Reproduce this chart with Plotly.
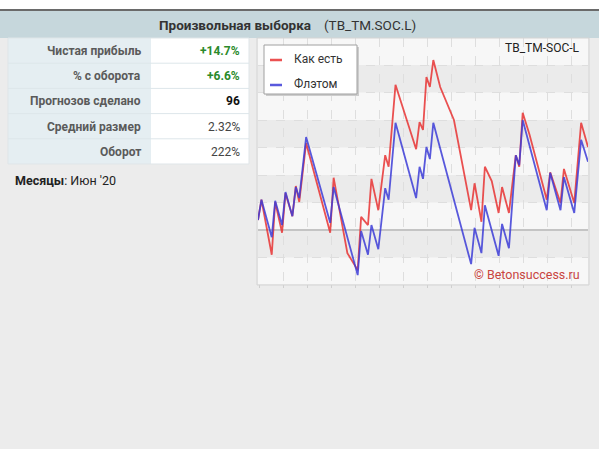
import plotly.graph_objects as go

W, H = 599, 449

# ---- data ----
title_main = "Произвольная выборка"
title_code = "(TB_TM.SOC.L)"
chart_name = "TB_TM-SOC-L"
watermark = "© Betonsuccess.ru"
series_names = ["Как есть", "Флэтом"]

stat_labels = ["Чистая прибыль", "% с оборота", "Прогнозов сделано", "Средний размер", "Оборот"]
stat_values = ["+14.7%", "+6.6%", "96", "2.32%", "222%"]
months_label = "Месяцы"
months_value = "Июн '20"

# bet index / cumulative profit (%)
red_x = [0, 1, 4, 5, 7, 8, 10, 11, 12, 14, 21, 22, 26, 29, 30, 32, 33, 35, 37, 38, 40,
         46, 47, 48, 49, 50, 51, 53, 57, 62, 63, 65, 66, 68, 70, 71, 73, 75, 76, 77, 79,
         84, 85, 88, 89, 92, 94, 96]
red_y = [1.8, 5.5, -4.5, 5.1, -0.5, 6.7, 2.5, 8.0, 5.1, 15.8, -0.5, 9.5, -4.2, -7.3, 2.4,
         0.9, 9.3, 3.6, 13.6, 11.5, 26.4, 14.7, 19.6, 18.2, 27.8, 26.0, 30.9, 26.0, 20.0,
         3.6, 8.5, 1.5, 11.5, 8.9, 3.1, 7.8, 3.1, 13.6, 11.5, 21.3, 17.3, 5.5, 10.5, 4.9,
         11.1, 4.9, 19.5, 15.1]

blue_x = [0, 1, 4, 5, 7, 8, 10, 11, 12, 14, 21, 22, 29, 30, 32, 33, 35, 37, 38, 40, 46,
          47, 48, 49, 50, 51, 62, 63, 65, 66, 70, 71, 73, 75, 76, 77, 84, 85, 88, 89, 92,
          94, 96]
blue_y = [1.8, 5.5, -1.3, 5.3, 0.9, 6.9, 2.5, 7.8, 5.8, 16.9, 1.3, 7.8, -8.2, -0.2, -4.5,
          0.9, -3.5, 7.6, 5.5, 19.5, 5.8, 11.5, 9.3, 15.1, 12.9, 19.5, -6.2, 0.4, -4.2,
          4.5, -4.7, 1.1, -3.3, 13.6, 11.8, 20.0, 3.6, 10.4, 3.6, 9.6, 3.1, 16.4, 12.4]

RED = "rgba(232,50,50,0.85)"
BLUE = "rgba(60,60,215,0.85)"
FONT = "Roboto"


def px(x):
    return x / W


def py(y):
    return 1 - y / H


fig = go.Figure()
fig.add_trace(go.Scatter(x=red_x, y=red_y, mode="lines", name=series_names[0],
                         line=dict(color=RED, width=1.8), showlegend=False, hoverinfo="skip"))
fig.add_trace(go.Scatter(x=blue_x, y=blue_y, mode="lines", name=series_names[1],
                         line=dict(color=BLUE, width=1.8), showlegend=False, hoverinfo="skip"))

shapes = []
ann = []

# page top white strip and header
shapes.append(dict(type="rect", xref="paper", yref="paper", x0=0, x1=1, y0=py(9), y1=1,
                   fillcolor="white", line_width=0, layer="below"))
shapes.append(dict(type="rect", xref="paper", yref="paper", x0=0, x1=1, y0=py(38), y1=py(10),
                   fillcolor="#c6d7dc", line_width=0, layer="below"))
shapes.append(dict(type="line", xref="paper", yref="paper", x0=0, x1=1, y0=py(10), y1=py(10),
                   line=dict(color="#6a6a6a", width=2)))
ann.append(dict(xref="paper", yref="paper", x=px(313), y=py(24.5), xanchor="right", yanchor="middle",
                text="<b>" + title_main + "</b>", showarrow=False,
                font=dict(family=FONT, size=13.5, color="#333")))
ann.append(dict(xref="paper", yref="paper", x=px(322), y=py(24.5), xanchor="left", yanchor="middle",
                text=title_code, showarrow=False,
                font=dict(family=FONT, size=13.5, color="#333")))

# stats table
tx0, tx1, tx2 = 8, 151, 249
ty0, row_h = 38, 25.2
nrows = len(stat_labels)
shapes.append(dict(type="rect", xref="paper", yref="paper", x0=px(tx0), x1=px(tx1),
                   y0=py(ty0 + nrows * row_h), y1=py(ty0), fillcolor="#e5eef2",
                   line_width=0, layer="below"))
shapes.append(dict(type="rect", xref="paper", yref="paper", x0=px(tx1), x1=px(tx2),
                   y0=py(ty0 + nrows * row_h), y1=py(ty0), fillcolor="white",
                   line_width=0, layer="below"))
shapes.append(dict(type="rect", xref="paper", yref="paper", x0=px(tx0), x1=px(tx2),
                   y0=py(ty0 + nrows * row_h), y1=py(ty0), line=dict(color="#dfe5e8", width=1),
                   layer="below"))
for i in range(1, nrows):
    yy = ty0 + i * row_h
    shapes.append(dict(type="line", xref="paper", yref="paper", x0=px(tx0), x1=px(tx2),
                       y0=py(yy), y1=py(yy), line=dict(color="#dde6ea", width=1)))
value_colors = ["#2b8a2b", "#2b8a2b", "#111", "#444", "#444"]
value_bold = [True, True, True, False, False]
for i, (lab, val) in enumerate(zip(stat_labels, stat_values)):
    yc = ty0 + (i + 0.5) * row_h + 0.5
    ann.append(dict(xref="paper", yref="paper", x=px(143), y=py(yc), xanchor="right",
                    yanchor="middle", text="<b>" + lab + "</b>", showarrow=False,
                    font=dict(family=FONT, size=12, color="#5a5a5a")))
    t = "<b>" + val + "</b>" if value_bold[i] else val
    ann.append(dict(xref="paper", yref="paper", x=px(242), y=py(yc), xanchor="right",
                    yanchor="middle", text=t, showarrow=False,
                    font=dict(family=FONT, size=12, color=value_colors[i])))
ann.append(dict(xref="paper", yref="paper", x=px(13), y=py(180), xanchor="left", yanchor="middle",
                text="<b>" + months_label + "</b>: " + months_value, showarrow=False,
                font=dict(family=FONT, size=12.5, color="#222")))

# chart frame
cx0, cx1, cy0, cy1 = 258, 588, 38, 284
shapes.append(dict(type="rect", xref="paper", yref="paper", x0=px(cx0 - 1), x1=px(cx1 + 1),
                   y0=py(cy1 + 1), y1=py(cy0), line=dict(color="#d4d4d4", width=1),
                   fillcolor="rgba(0,0,0,0)"))
# alternating bands
for v in [-5, 5, 15, 25]:
    shapes.append(dict(type="rect", xref="paper", yref="y", x0=px(cx0), x1=px(cx1),
                       y0=v, y1=v + 5, fillcolor="#ebebeb", line_width=0, layer="below"))

# legend box (manual)
lx0, lx1, ly0, ly1 = 264, 357, 45, 94
shapes.append(dict(type="rect", xref="paper", yref="paper", x0=px(lx0 + 2), x1=px(lx1 + 2),
                   y0=py(ly1 + 2), y1=py(ly0 + 2), fillcolor="#cccccc", line_width=0))
shapes.append(dict(type="rect", xref="paper", yref="paper", x0=px(lx0), x1=px(lx1),
                   y0=py(ly1), y1=py(ly0), fillcolor="white", line=dict(color="#a0a0a0", width=1)))
for name, col, yy in [(series_names[0], RED, 59), (series_names[1], BLUE, 84)]:
    shapes.append(dict(type="line", xref="paper", yref="paper", x0=px(270), x1=px(282),
                       y0=py(yy + 1), y1=py(yy + 1), line=dict(color=col, width=2.5)))
    ann.append(dict(xref="paper", yref="paper", x=px(292), y=py(yy), xanchor="left",
                    yanchor="middle", text=name, showarrow=False,
                    font=dict(family=FONT, size=12, color="#333")))

ann.append(dict(xref="paper", yref="paper", x=px(582), y=py(48), xanchor="right", yanchor="middle",
                text=chart_name, showarrow=False, font=dict(family=FONT, size=12, color="#222")))
ann.append(dict(xref="paper", yref="paper", x=px(582), y=py(274), xanchor="right", yanchor="middle",
                text=watermark, showarrow=False, font=dict(family=FONT, size=12.5, color="#c9453f")))

x_per_px = 96 / (cx1 - cx0)
y_per_px = 5 / 27.5
fig.update_layout(
    width=W, height=H,
    margin=dict(l=0, r=0, t=0, b=0),
    paper_bgcolor="#ececec",
    plot_bgcolor="#f7f7f7",
    shapes=shapes,
    annotations=ann,
    showlegend=False,
    xaxis=dict(domain=[px(cx0), px(cx1)], range=[0, 96], showticklabels=False,
               showgrid=True, gridcolor="#dedede", griddash="dash", gridwidth=1,
               tick0=(283 - cx0) * x_per_px, dtick=24 * x_per_px,
               ticks="outside", ticklen=3, tickcolor="#cfcfcf", zeroline=False,
               fixedrange=True),
    yaxis=dict(domain=[py(cy1), py(cy0)],
               range=[(230 - cy1) * y_per_px, (230 - cy0) * y_per_px],
               showticklabels=False, showgrid=True, gridcolor="#dedede", griddash="dash",
               dtick=5, tick0=0, zeroline=True, zerolinecolor="#c4c4c4", zerolinewidth=1.5,
               fixedrange=True),
)

fig.write_html("out.html")
